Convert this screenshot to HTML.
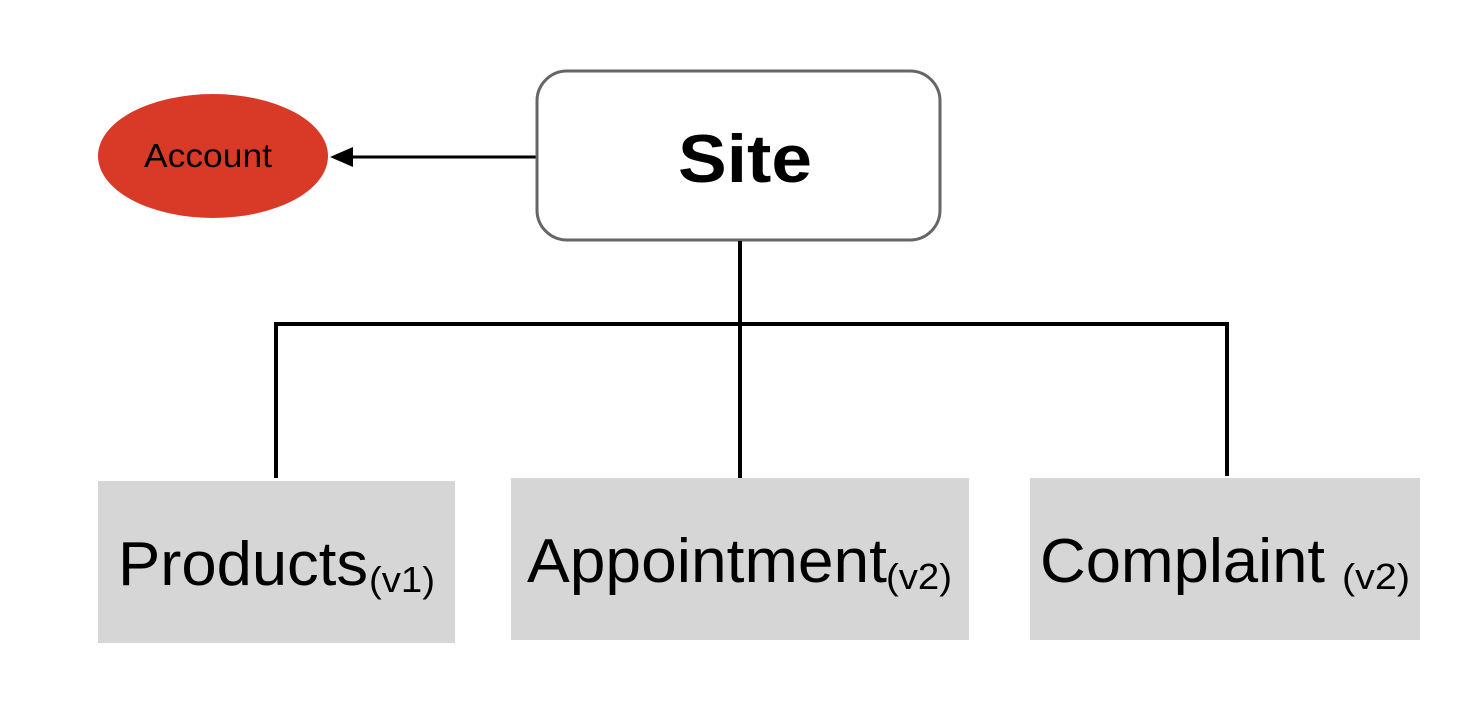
<!DOCTYPE html>
<html><head><style>
body{margin:0;background:#fff;}
</style></head><body>
<svg width="1474" height="704" xmlns="http://www.w3.org/2000/svg" style="display:block">
<rect width="1474" height="704" fill="#fff"/>
<ellipse cx="213" cy="156" rx="115" ry="62" fill="#d93a27"/>
<text x="144" y="167" font-family="Liberation Sans, sans-serif" font-size="33" textLength="128" lengthAdjust="spacingAndGlyphs" fill="#000">Account</text>
<line x1="536" y1="157" x2="345" y2="157" stroke="#000" stroke-width="3"/>
<polygon points="330,157 353,147 353,167" fill="#000"/>
<rect x="537" y="71" width="403" height="169" rx="30" fill="#fff" stroke="#666" stroke-width="3"/>
<text x="678" y="182" font-family="Liberation Sans, sans-serif" font-size="68" font-weight="bold" textLength="134" lengthAdjust="spacingAndGlyphs" fill="#000">Site</text>
<g stroke="#000" stroke-width="4" fill="none">
<line x1="740" y1="241" x2="740" y2="478"/>
<line x1="274" y1="324" x2="1229" y2="324"/>
<line x1="276" y1="322" x2="276" y2="478"/>
<line x1="1227" y1="322" x2="1227" y2="476"/>
</g>
<rect x="98" y="481" width="357" height="162" fill="#d6d6d6"/>
<rect x="511" y="478" width="458" height="162" fill="#d6d6d6"/>
<rect x="1030" y="478" width="390" height="162" fill="#d6d6d6"/>
<g font-family="Liberation Sans, sans-serif" fill="#000">
<text x="118" y="585" font-size="62" textLength="250" lengthAdjust="spacingAndGlyphs">Products</text>
<text x="369" y="592" font-size="36" textLength="66" lengthAdjust="spacingAndGlyphs">(v1)</text>
<text x="527" y="582" font-size="62" textLength="360" lengthAdjust="spacingAndGlyphs">Appointment</text>
<text x="886" y="589" font-size="36" textLength="66" lengthAdjust="spacingAndGlyphs">(v2)</text>
<text x="1040" y="582" font-size="62" textLength="285" lengthAdjust="spacingAndGlyphs">Complaint</text>
<text x="1342" y="589" font-size="36" textLength="68" lengthAdjust="spacingAndGlyphs">(v2)</text>
</g>
</svg>
</body></html>
